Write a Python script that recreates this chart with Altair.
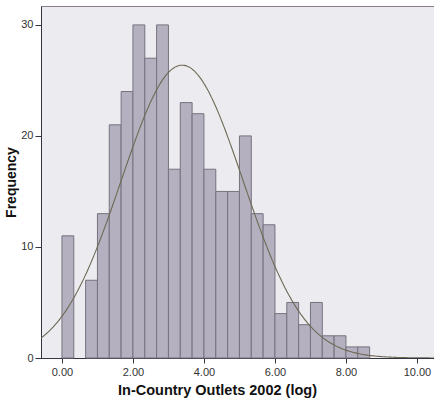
import altair as alt
import pandas as pd
import numpy as np

bin_width = 1.0 / 3.0
bin_starts = [i * bin_width for i in range(26)]
counts = [11, 0, 7, 13, 21, 24, 30, 27, 30, 17, 23, 22, 17, 15, 15, 20, 13, 12,
          4, 5, 3, 5, 2, 2, 1, 1]
x_ticks = [0, 2, 4, 6, 8, 10]
y_ticks = [0, 10, 20, 30]
x_domain = [-0.59, 10.48]
y_domain = [0, 31.7]

bars = pd.DataFrame({
    "x0": bin_starts,
    "x1": [s + bin_width for s in bin_starts],
    "count": counts,
})
bars = bars[bars["count"] > 0]

# normal curve fitted to the histogram (mean/sd from the binned counts)
centers = np.array(bin_starts) + bin_width / 2
c = np.array(counts, dtype=float)
n = c.sum()
mean = (c * centers).sum() / n
sd = np.sqrt((c * (centers - mean) ** 2).sum() / n)
xs = np.linspace(x_domain[0], x_domain[1], 300)
ys = n * bin_width / (sd * np.sqrt(2 * np.pi)) * np.exp(-((xs - mean) ** 2) / (2 * sd ** 2))
curve = pd.DataFrame({"x": xs, "y": ys})

xscale = alt.Scale(domain=x_domain, nice=False, zero=False)
yscale = alt.Scale(domain=y_domain, nice=False)

font = "Liberation Sans"

xaxis = alt.Axis(values=x_ticks, format=".2f", title="In-Country Outlets 2002 (log)",
                 grid=False, tickSize=5, labelPadding=3, labelFontSize=11,
                 labelFont=font, labelColor="#333333", titleFont=font,
                 titleFontSize=14.5, titleFontWeight="bold", titleColor="#111111",
                 titlePadding=6, titleX=176, titleAlign="center",
                 domainColor="#333344", tickColor="#333344")
yaxis = alt.Axis(values=y_ticks, format="d", title="Frequency", grid=False,
                 tickSize=6, labelPadding=2, labelFontSize=11, labelFont=font,
                 labelColor="#333333", titleFont=font, titleFontSize=14,
                 titleFontWeight="bold", titleColor="#111111", titlePadding=2,
                 domainColor="#333344", tickColor="#333344")

hist = alt.Chart(bars).mark_rect(fill="#b4b0c0", stroke="#77727e", strokeWidth=1).encode(
    x=alt.X("x0:Q", scale=xscale, axis=xaxis),
    x2="x1:Q",
    y=alt.Y("count:Q", scale=yscale, axis=yaxis),
    y2=alt.datum(0),
)

line = alt.Chart(curve).mark_line(color="#6e6a55", strokeWidth=1.1, clip=True).encode(
    x=alt.X("x:Q", scale=xscale),
    y=alt.Y("y:Q", scale=yscale),
)

chart = (hist + line).properties(
    width=393, height=352,
    autosize=alt.AutoSizeParams(type="none"),
    padding={"left": 41, "top": 6, "right": 0, "bottom": 43},
    background="white",
).configure_view(fill="#ecebf0", stroke="#8a7f8c", strokeWidth=1)

chart.save("out.html", embed_options={"renderer": "svg", "actions": False})
